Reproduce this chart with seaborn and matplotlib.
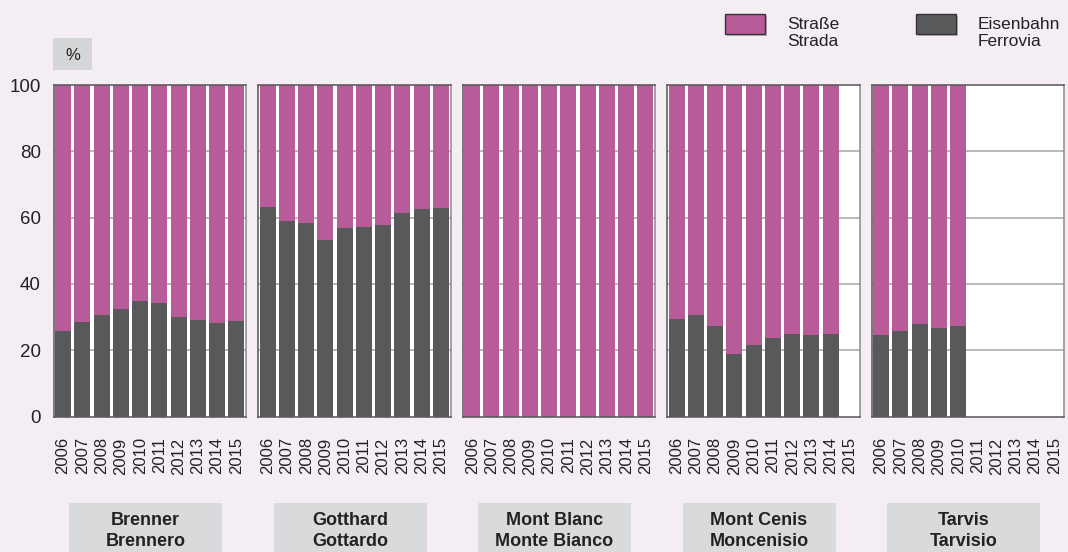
import matplotlib
matplotlib.use("Agg")
import matplotlib.pyplot as plt
from matplotlib.patches import Rectangle
import numpy as np
import pandas as pd
import seaborn as sns

# Modal split of trans-Alpine freight, rail share in percent (road = remainder)
years = [str(y) for y in range(2006, 2016)]
passes = ["Brenner\nBrennero", "Gotthard\nGottardo", "Mont Blanc\nMonte Bianco",
          "Mont Cenis\nMoncenisio", "Tarvis\nTarvisio"]
rail_brenner = [25.8, 28.5, 30.6, 32.4, 34.8, 34.2, 30.0, 29.1, 28.2, 28.8]
rail_gotthard = [63.3, 59.1, 58.5, 53.1, 57.0, 57.3, 57.9, 61.5, 62.7, 63.0]
rail_montblanc = [0.0, 0.0, 0.0, 0.0, 0.0, 0.0, 0.0, 0.0, 0.0, 0.0]
rail_montcenis = [29.4, 30.6, 27.3, 18.8, 21.5, 23.6, 24.8, 24.5, 24.8, np.nan]
rail_tarvis = [24.5, 25.8, 27.9, 26.7, 27.3, np.nan, np.nan, np.nan, np.nan, np.nan]
rail_series = [rail_brenner, rail_gotthard, rail_montblanc, rail_montcenis, rail_tarvis]
legend_labels = ["Straße\nStrada", "Eisenbahn\nFerrovia"]
y_ticks = [0, 20, 40, 60, 80, 100]

ROAD = "#B75B99"
RAIL = "#58595B"
BG = "#F4EDF4"
BOX = "#D9DADC"

sns.set_style("white")
plt.rcParams["font.family"] = ["Liberation Sans", "DejaVu Sans"]

W, H = 1068, 552
fig = plt.figure(figsize=(W / 100, H / 100), dpi=100, facecolor=BG)


def fx(px):
    return px / W


def fy(py):
    return 1 - py / H


panel_left = [53.5, 258.0, 462.5, 667.0, 871.5]
panel_w = 192.5
top_px, bot_px = 85.0, 416.5

for i, (name, rail) in enumerate(zip(passes, rail_series)):
    ax = fig.add_axes([fx(panel_left[i]), fy(bot_px), fx(panel_w),
                       (bot_px - top_px) / H])
    ax.set_facecolor("white")
    df = pd.DataFrame({"year": years, "rail": rail})
    df["road"] = 100 - df["rail"]
    df["total"] = df["rail"] + df["road"]
    df = df.dropna()
    sns.barplot(data=df, x="year", y="total", order=years, color=ROAD,
                saturation=1, width=0.84, linewidth=0, errorbar=None, ax=ax,
                zorder=2)
    sns.barplot(data=df, x="year", y="rail", order=years, color=RAIL,
                saturation=1, width=0.84, linewidth=0, errorbar=None, ax=ax,
                zorder=3)
    ax.set_xlim(-0.5, 9.5)
    ax.set_ylim(0, 100)
    ax.set_yticks(y_ticks)
    for v in y_ticks[1:-1]:
        ax.axhline(v, color="#B3B3B3", lw=1.3, zorder=1)
    ax.set_xlabel("")
    ax.set_ylabel("")
    ax.set_xticks(range(len(years)))
    ax.set_xticklabels(years, rotation=90, fontsize=12, color="#222222")
    ax.tick_params(axis="x", length=0, pad=15)
    ax.tick_params(axis="y", length=0, pad=9, labelsize=13.5, labelcolor="#222222")
    if i > 0:
        ax.set_yticklabels([])
    for s in ax.spines.values():
        s.set_color("#555555")
        s.set_linewidth(1.1)
    ax.spines["right"].set_color("#8A8A8A")

    # pass name box beneath each panel
    bx0 = panel_left[i] + 15.5
    bw = 153
    fig.patches.append(Rectangle((fx(bx0), 0), fx(bw), (H - 503) / H,
                                 transform=fig.transFigure, facecolor=BOX,
                                 edgecolor="none", zorder=0))
    fig.text(fx(bx0 + bw / 2), fy(531), name, ha="center", va="center",
             fontsize=13, fontweight="bold", color="#222222", linespacing=1.3)

# unit box
fig.patches.append(Rectangle((fx(53), fy(70)), fx(39), 32 / H,
                             transform=fig.transFigure, facecolor="#D5D6D8",
                             edgecolor="none"))
fig.text(fx(72.5), fy(55), "%", ha="center", va="center", fontsize=12,
         color="#222222")

# legend
for (x0, col, lab) in [(725, ROAD, legend_labels[0]), (916, RAIL, legend_labels[1])]:
    fig.patches.append(Rectangle((fx(x0 + 2), fy(36)), fx(40), 20 / H,
                                 transform=fig.transFigure, facecolor="#9A959A",
                                 edgecolor="none", alpha=0.6))
    fig.patches.append(Rectangle((fx(x0), fy(34)), fx(40), 20 / H,
                                 transform=fig.transFigure, facecolor=col,
                                 edgecolor="#333333", lw=1.0))
    fig.text(fx(x0 + 62), fy(33), lab, ha="left", va="center", fontsize=12.5,
             color="#222222", linespacing=1.2)

fig.savefig("out.png", dpi=100, facecolor=BG)
